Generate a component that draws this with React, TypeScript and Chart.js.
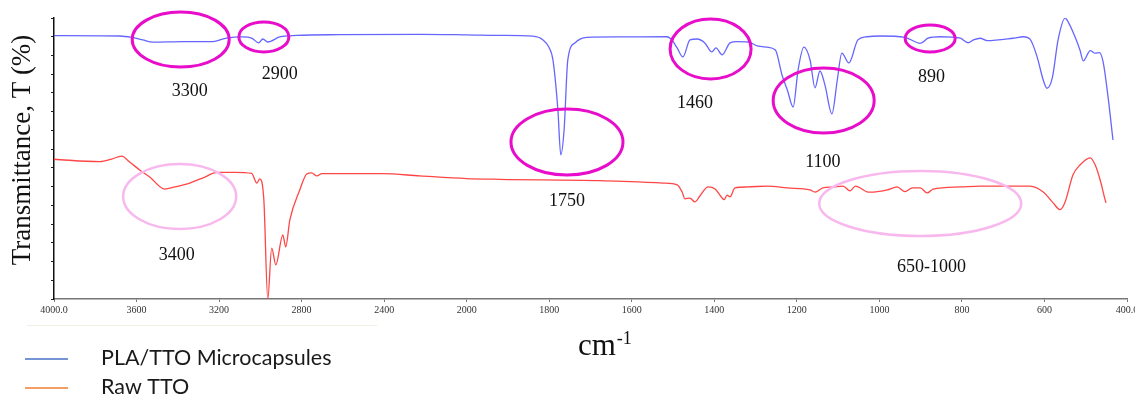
import React, { useEffect, useRef } from "react";
import { Chart, registerables } from "chart.js";

Chart.register(...registerables);

// ---- Data ----
const tickLabels = ["4000.0", "3600", "3200", "2800", "2400", "2000", "1800", "1600", "1400", "1200", "1000", "800", "600", "400.0"];
const seriesNames = ["PLA/TTO Microcapsules", "Raw TTO"];

const plaWn = [4000, 3681, 3618, 3570, 3522, 3376, 3231, 3163, 3085, 3042, 3008, 2988, 2964, 2906, 2823, 2615, 2227, 2000, 1920, 1840, 1815, 1801, 1791, 1779, 1772, 1764, 1755, 1738, 1709, 1636, 1515, 1503, 1490, 1476, 1459, 1442, 1423, 1406, 1396, 1381, 1362, 1345, 1318, 1296, 1272, 1252, 1236, 1223, 1209, 1197, 1183, 1168, 1156, 1144, 1132, 1115, 1102, 1091, 1074, 1052, 1030, 998, 938, 901, 882, 853, 804, 785, 772, 756, 739, 676, 651, 635, 618, 603, 594, 581, 567, 550, 543, 526, 514, 506, 489, 477, 467, 458, 446, 434];
const plaT = [140.6, 140.4, 139.5, 138.3, 137.1, 137.4, 137.4, 139.3, 139.9, 139.3, 136.7, 138.8, 137.2, 139.9, 140.7, 141.1, 141.3, 141.0, 140.7, 140.3, 138.3, 134.5, 127.6, 100.9, 76.9, 90.2, 127.6, 136.7, 139.7, 139.9, 140.0, 138.3, 134.0, 129.2, 138.3, 138.8, 136.7, 131.9, 134.0, 130.3, 136.7, 137.4, 137.2, 135.1, 134.4, 132.9, 119.6, 111.6, 102.5, 122.3, 134.5, 127.6, 112.7, 121.7, 114.3, 98.8, 116.9, 131.3, 126.0, 138.3, 140.0, 140.4, 139.7, 136.5, 139.2, 140.0, 139.2, 136.8, 138.3, 139.2, 137.9, 139.2, 140.0, 138.7, 129.4, 116.9, 112.5, 118.0, 138.3, 149.9, 148.1, 140.0, 132.9, 127.1, 132.6, 131.2, 131.5, 126.7, 108.0, 84.9];

const ttoWn = [4000, 3778, 3720, 3672, 3633, 3585, 3536, 3463, 3415, 3342, 3269, 3211, 3124, 3042, 3017, 3003, 2983, 2964, 2945, 2925, 2891, 2877, 2857, 2809, 2775, 2751, 2726, 2702, 2406, 2227, 2000, 1920, 1677, 1524, 1490, 1478, 1471, 1459, 1447, 1435, 1415, 1398, 1381, 1376, 1369, 1362, 1350, 1320, 1272, 1224, 1168, 1156, 1137, 1112, 1088, 1071, 1058, 1027, 1015, 981, 957, 938, 920, 901, 884, 870, 804, 756, 676, 635, 603, 579, 562, 550, 531, 514, 489, 477, 465, 453, 451];
const ttoT = [74.6, 73.3, 74.7, 76.3, 73.1, 68.9, 65.1, 58.7, 59.8, 61.9, 65.1, 67.6, 67.6, 67.0, 61.9, 64.1, 52.9, 0, 27.2, 18.2, 34.2, 27.8, 42.2, 58.2, 66.7, 67.3, 65.7, 66.9, 66.9, 65.7, 64.3, 63.9, 63.2, 61.9, 60.9, 57.1, 53.4, 53.9, 51.8, 55.0, 59.8, 58.7, 53.9, 53.0, 55.5, 54.5, 59.3, 59.8, 60.3, 59.3, 58.2, 57.1, 59.3, 59.8, 60.3, 57.7, 60.3, 57.1, 57.1, 58.2, 59.8, 57.3, 59.3, 59.3, 56.6, 58.7, 59.8, 60.3, 60.3, 60.2, 57.1, 51.3, 47.7, 51.8, 66.2, 71.5, 75.3, 71.5, 63.5, 52.9, 51.3];

// Annotations (band labels) in data coordinates
const annoLabels = ["3300", "2900", "1750", "1460", "1100", "890", "3400", "650-1000"];
const annoWn = [3386, 2983, 1757, 1409, 1135, 877, 3391, 901];
const annoT = [138.5, 139.9, 83.8, 133.5, 106.0, 139.1, 54.7, 51.0];
const annoLabelWn = [3342, 2906, 1757, 1447, 1137, 874, 3405, 874];
const annoLabelT = [111.0, 120.1, 52.3, 104.6, 73.1, 118.5, 23.5, 17.1];

// ---- Styles ----
const annoRx = [48.5, 25, 56, 40.5, 50.5, 25, 56.5, 101];
const annoRy = [27.5, 15, 33, 30, 32.5, 13.5, 32.5, 32.5];
const annoStrong = [true, true, true, true, true, true, false, false];
const MAGENTA = "#e80ccb";
const PINK = "#f8b8ee";
const lineColors = ["rgba(85,85,255,0.9)", "rgba(255,60,60,0.95)"];
const legendColors = ["#4472c4", "#ed7d31"];

// piecewise wavenumber axis (2x expansion below 2000 cm-1)
function toAxis(wn: number): number {
  return wn >= 2000 ? (4000 - wn) / 400 : 5 + (2000 - wn) / 200;
}

const overlayPlugin = {
  id: "overlay",
  afterDatasetsDraw(chart: any) {
    const { ctx } = chart;
    const x = chart.scales.x;
    const y = chart.scales.y;
    ctx.save();
    for (let i = 0; i < annoLabels.length; i++) {
      const cx = x.getPixelForValue(toAxis(annoWn[i]));
      const cy = y.getPixelForValue(annoT[i]);
      ctx.beginPath();
      ctx.ellipse(cx, cy, annoRx[i], annoRy[i], 0, 0, Math.PI * 2);
      ctx.strokeStyle = annoStrong[i] ? MAGENTA : PINK;
      ctx.lineWidth = annoStrong[i] ? 3 : 2.5;
      ctx.stroke();
      const lx = x.getPixelForValue(toAxis(annoLabelWn[i]));
      const ly = y.getPixelForValue(annoLabelT[i]);
      ctx.fillStyle = "#111";
      ctx.font = "18px 'Liberation Serif', serif";
      ctx.textAlign = "center";
      ctx.textBaseline = "middle";
      ctx.fillText(annoLabels[i], lx, ly);
    }
    ctx.restore();
  },
  afterDraw(chart: any) {
    const { ctx } = chart;
    ctx.save();
    // y title
    ctx.translate(23, 150);
    ctx.rotate(-Math.PI / 2);
    ctx.font = "27px 'Liberation Serif', serif";
    ctx.fillStyle = "#111";
    ctx.textAlign = "center";
    ctx.textBaseline = "middle";
    ctx.fillText("Transmittance, T (%)", 0, 0);
    ctx.restore();

    // x title cm^-1
    ctx.save();
    ctx.fillStyle = "#111";
    ctx.textBaseline = "alphabetic";
    ctx.textAlign = "left";
    ctx.font = "31px 'Liberation Serif', serif";
    ctx.fillText("cm", 578, 355);
    const w = ctx.measureText("cm").width;
    ctx.font = "18px 'Liberation Serif', serif";
    ctx.fillText("-1", 578 + w + 1, 344);
    ctx.restore();

    // faint separator
    ctx.save();
    ctx.strokeStyle = "#f2efe4";
    ctx.lineWidth = 1;
    ctx.beginPath();
    ctx.moveTo(27, 325.5);
    ctx.lineTo(377, 325.5);
    ctx.stroke();
    ctx.restore();

    // legend
    ctx.save();
    const rows = [359, 388];
    for (let i = 0; i < seriesNames.length; i++) {
      ctx.strokeStyle = legendColors[i];
      ctx.lineWidth = 1.5;
      ctx.beginPath();
      ctx.moveTo(25, rows[i]);
      ctx.lineTo(68, rows[i]);
      ctx.stroke();
      ctx.fillStyle = "#1a1a1a";
      ctx.font = "21.5px Lato, 'Open Sans', sans-serif";
      ctx.textAlign = "left";
      ctx.textBaseline = "alphabetic";
      ctx.fillText(seriesNames[i], 101, rows[i] + 6);
    }
    ctx.restore();
  },
};

export default function App() {
  const canvasRef = useRef<HTMLCanvasElement | null>(null);

  useEffect(() => {
    const canvas = canvasRef.current;
    if (!canvas) return;
    const chart = new Chart(canvas, {
      type: "line",
      data: {
        datasets: [
          {
            label: seriesNames[0],
            data: plaWn.map((w, i) => ({ x: toAxis(w), y: plaT[i] })),
            borderColor: lineColors[0],
            borderWidth: 1.3,
            pointRadius: 0,
            cubicInterpolationMode: "monotone",
            fill: false,
          },
          {
            label: seriesNames[1],
            data: ttoWn.map((w, i) => ({ x: toAxis(w), y: ttoT[i] })),
            borderColor: lineColors[1],
            borderWidth: 1.3,
            pointRadius: 0,
            cubicInterpolationMode: "monotone",
            fill: false,
          },
        ],
      },
      options: {
        responsive: false,
        animation: false,
        layout: { padding: { top: 18, right: 8, left: 0, bottom: 0 } },
        plugins: { legend: { display: false }, tooltip: { enabled: false } },
        scales: {
          x: {
            type: "linear",
            min: 0,
            max: 13,
            ticks: {
              stepSize: 1,
              autoSkip: false,
              maxRotation: 0,
              padding: 2,
              color: "#333",
              font: { family: "'Liberation Serif', serif", size: 10 },
              callback: (v: any) => tickLabels[Math.round(Number(v))] ?? "",
            },
            grid: { display: true, drawOnChartArea: false, drawTicks: true, tickLength: 3, color: "#777" },
            border: { display: true, color: "#777", width: 1.5 },
            afterFit: (s: any) => {
              s.height = 103;
              s.paddingLeft = 0;
              s.paddingRight = 0;
            },
          },
          y: {
            type: "linear",
            min: 0,
            max: 150,
            ticks: { display: false, stepSize: 10 },
            grid: { display: true, drawOnChartArea: false, drawTicks: true, tickLength: 3, color: "#222" },
            border: { display: true, color: "#111", width: 1.5 },
            afterFit: (s: any) => {
              s.width = 54;
            },
          },
        },
      },
      plugins: [overlayPlugin],
    });
    return () => chart.destroy();
  }, []);

  return (
    <div style={{ position: "absolute", left: 0, top: 0, width: 1135, height: 402, background: "#fff" }}>
      <canvas ref={canvasRef} width={1135} height={402} style={{ display: "block" }} />
    </div>
  );
}
